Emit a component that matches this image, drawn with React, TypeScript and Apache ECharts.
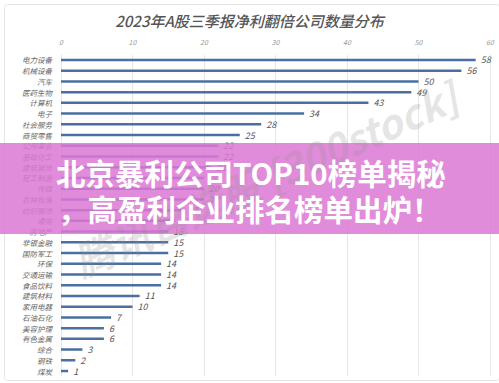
import React, { useEffect, useRef } from "react";
import * as echarts from "echarts";

const categories = [
  "电力设备", "机械设备", "汽车", "医药生物", "计算机", "电子", "社会服务", "商贸零售",
  "公用事业", "基础化工", "建筑装饰", "轻工制造", "传媒", "农林牧渔", "纺织服饰", "通信",
  "房地产", "非银金融", "国防军工", "环保", "交通运输", "食品饮料", "建筑材料", "家用电器",
  "石油石化", "美容护理", "有色金属", "综合", "钢铁", "煤炭",
];
const values = [
  58, 56, 50, 49, 43, 34, 28, 25,
  22, 22, 21, 20, 20, 20, 17, 16,
  15, 15, 15, 14, 14, 14, 11, 10,
  7, 6, 6, 3, 2, 1,
];
const xTicks = { min: 0, max: 60, interval: 10 };
const titleText = "2023年A股三季报净利翻倍公司数量分布";
const bannerLines = ["北京暴利公司TOP10榜单揭秘", "，高盈利企业排名榜单出炉！"];
const watermarkText = "腾讯自选股 [300stock]";

export default function App() {
  const ref = useRef<HTMLDivElement>(null);
  useEffect(() => {
    if (!ref.current) return;
    const chart = echarts.init(ref.current, null, { renderer: "svg" });
    const font = "'Noto Sans CJK SC', 'Noto Sans', sans-serif";
    chart.setOption({
      animation: false,
      backgroundColor: "#fff",
      title: {
        text: titleText,
        left: "center",
        top: 8,
        textStyle: { fontSize: 15, fontWeight: 500, color: "#555", fontFamily: font, fontStyle: "italic" },
      },
      grid: { left: 61, right: 9, top: 54.6, bottom: 6.6 },
      xAxis: {
        type: "value",
        position: "top",
        min: xTicks.min,
        max: xTicks.max,
        interval: xTicks.interval,
        axisLine: { show: false },
        axisTick: { show: false },
        axisLabel: { color: "#999", fontSize: 7, margin: 9, fontStyle: "italic", fontFamily: font },
        splitLine: { show: true, lineStyle: { color: "#e6e6e6", width: 1 } },
      },
      yAxis: {
        type: "category",
        data: categories,
        inverse: true,
        axisLine: { show: false },
        axisTick: { show: false },
        axisLabel: { color: "#666", fontSize: 7.5, margin: 9, fontStyle: "italic", fontFamily: font },
      },
      series: [
        {
          type: "bar",
          data: values,
          barWidth: 2.5,
          itemStyle: { color: "#4a6fa0" },
          label: {
            show: true,
            position: "right",
            distance: 5,
            color: "#555",
            fontSize: 9,
            fontStyle: "italic",
            fontFamily: font,
          },
        },
      ],
      graphic: [
        {
          type: "rect",
          left: 2,
          top: 2,
          shape: { width: 495, height: 376, r: 3 },
          style: { fill: "none", stroke: "#e4e4e4", lineWidth: 1 },
          silent: true,
        },
        {
          type: "rect",
          left: 0,
          top: 143,
          shape: { width: 499, height: 91 },
          style: { fill: "rgba(220,120,212,0.85)" },
          z: 100,
        },
        {
          type: "text",
          x: 265,
          y: 178,
          rotation: 0.42,
          style: {
            text: watermarkText,
            fill: "rgba(140,140,140,0.22)",
            font: `bold italic 40px ${font}`,
            textAlign: "center",
            textVerticalAlign: "middle",
          },
          z: 101,
          silent: true,
        },
        {
          type: "text",
          x: 56,
          y: 172,
          style: {
            text: bannerLines[0],
            fill: "#fff",
            font: `bold 29.5px ${font}`,
            textAlign: "left",
            textVerticalAlign: "middle",
          },
          z: 102,
        },
        {
          type: "text",
          x: 58,
          y: 208,
          style: {
            text: bannerLines[1],
            fill: "#fff",
            font: `bold 29.5px ${font}`,
            textAlign: "left",
            textVerticalAlign: "middle",
          },
          z: 102,
        },
      ],
    });
    return () => chart.dispose();
  }, []);
  return (
    <div
      ref={ref}
      style={{ position: "fixed", left: 0, top: 0, width: 499, height: 383 }}
    />
  );
}
